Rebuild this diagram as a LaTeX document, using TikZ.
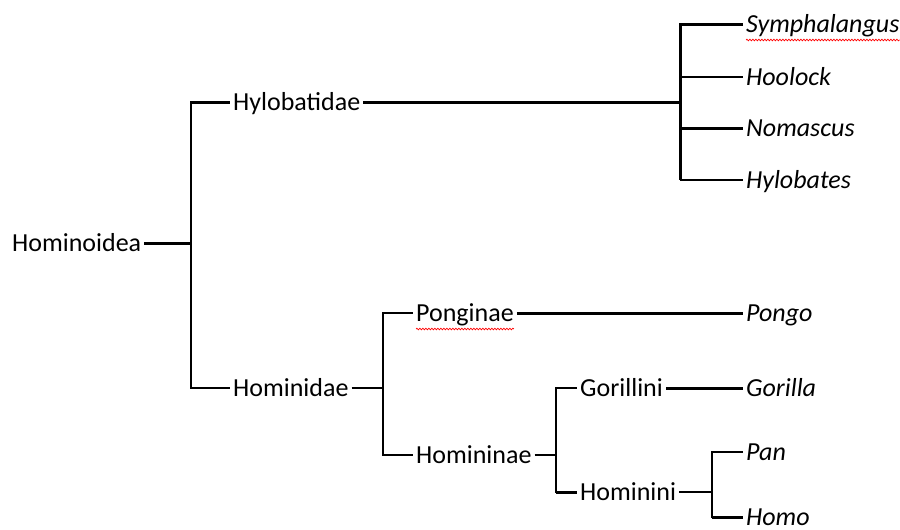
\documentclass[tikz,border=0pt]{standalone}
\usepackage{fontspec}
\setmainfont{Carlito}
\usetikzlibrary{decorations.pathmorphing}
\begin{document}
\begin{tikzpicture}[x=1pt,y=-1pt,
  lbl/.style={anchor=west,inner sep=3pt,text height=22pt,text depth=6pt,font=\fontsize{26}{30}\selectfont},
  gen/.style={lbl,font=\fontsize{26}{30}\selectfont\itshape},
  thk/.style={line width=3pt},
  thn/.style={line width=2pt},
  spell/.style={red,line width=0.7pt,decorate,decoration={snake,amplitude=0.8pt,segment length=3pt}}]
\useasboundingbox (0,0) rectangle (900,530);
% labels
\node[lbl] (hoid) at (9,243) {Hominoidea};
\node[lbl] (hylo) at (230,102) {Hylobatidae};
\node[lbl] (hida) at (230,388) {Hominidae};
\node[lbl] (pong) at (413,313) {Ponginae};
\node[lbl] (hnae) at (413,455) {Homininae};
\node[lbl] (gori) at (577,388) {Gorillini};
\node[lbl] (hini) at (577,492) {Hominini};
\node[gen] (symp) at (743,24) {Symphalangus};
\node[gen] (hool) at (743,77) {Hoolock};
\node[gen] (noma) at (743,128) {Nomascus};
\node[gen] (hyls) at (743,180) {Hylobates};
\node[gen] (pngo) at (743,313) {Pongo};
\node[gen] (gorl) at (743,388) {Gorilla};
\node[gen] (pan) at (743,452) {Pan};
\node[gen] (homo) at (743,517) {Homo};
% junctions
\coordinate (j1) at (191,243);
\coordinate (j2) at (680,102);
\coordinate (j3) at (383,388);
\coordinate (j4) at (556,455);
\coordinate (j5) at (712,492);
% connectors
\draw[thk] (hoid.east) -- (j1);
\draw[thn] (j1) |- (hylo.west);
\draw[thk] (191,102) -- (hylo.west);
\draw[thn] (j1) |- (hida.west);
\draw[thk] (hylo.east) -- (j2);
\draw[thk] (j2) |- (symp.west);
\draw[thn] (j2) |- (hool.west);
\draw[thk] (j2) |- (noma.west);
\draw[thk] (680,128) -- (680,180);
\draw[thn] (680,180) -- (hyls.west);
\draw[thn] (hida.east) -- (j3);
\draw[thn] (j3) |- (pong.west);
\draw[thn] (j3) |- (hnae.west);
\draw[thk] (pong.east) -- (pngo.west);
\draw[thn] (hnae.east) -- (j4);
\draw[thn] (j4) |- (gori.west);
\draw[thn] (j4) |- (hini.west);
\draw[thk] (556,492) -- (hini.west);
\draw[thk] (gori.east) -- (gorl.west);
\draw[thn] (hini.east) -- (j5);
\draw[thn] (j5) |- (pan.west);
\draw[thn] (j5) |- (homo.west);
\draw[thk] (712,517) -- (homo.west);
% spell-check underlines
\draw[spell] ([xshift=3pt,yshift=-8pt]symp.base west) -- ([xshift=-3pt,yshift=-8pt]symp.base east);
\draw[spell] ([xshift=3pt,yshift=-8pt]pong.base west) -- ([xshift=-3pt,yshift=-8pt]pong.base east);
\end{tikzpicture}
\end{document}
